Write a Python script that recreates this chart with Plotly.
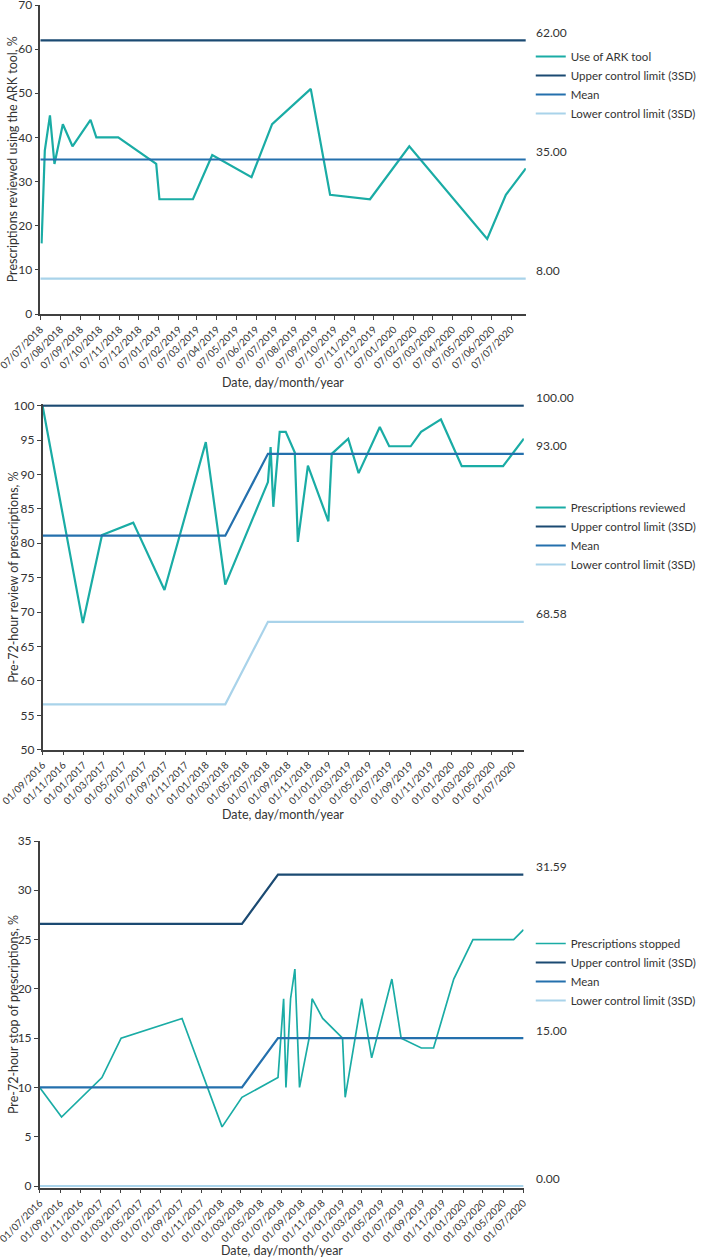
import plotly.graph_objects as go

# ---------------- data ----------------
# Chart 1: use of ARK tool
ark_dates = ["2018-07-09", "2018-07-14", "2018-07-22", "2018-07-29", "2018-08-11", "2018-08-26",
             "2018-09-23", "2018-10-02", "2018-11-05", "2019-01-03", "2019-01-08", "2019-03-01",
             "2019-03-31", "2019-05-31", "2019-07-02", "2019-08-31", "2019-09-30", "2019-12-01",
             "2020-01-31", "2020-05-31", "2020-06-29", "2020-07-30"]
ark_values = [16, 37, 45, 34, 43, 38, 44, 40, 40, 34, 26, 26, 36, 31, 43, 51, 27, 26, 38, 17, 27, 33]
ark_limit_dates = ["2018-07-07", "2020-07-30"]
ark_ucl = [62.0, 62.0]
ark_mean = [35.0, 35.0]
ark_lcl = [8.0, 8.0]
ark_ticks = ["07/07/2018", "07/08/2018", "07/09/2018", "07/10/2018", "07/11/2018", "07/12/2018",
             "07/01/2019", "07/02/2019", "07/03/2019", "07/04/2019", "07/05/2019", "07/06/2019",
             "07/07/2019", "07/08/2019", "07/09/2019", "07/10/2019", "07/11/2019", "07/12/2019",
             "07/01/2020", "07/02/2020", "07/03/2020", "07/04/2020", "07/05/2020", "07/06/2020",
             "07/07/2020"]

# Chart 2: pre-72-hour review of prescriptions
rev_dates = ["2016-09-01", "2016-12-30", "2017-02-25", "2017-05-29", "2017-08-30", "2017-12-31",
             "2018-02-27", "2018-07-04", "2018-07-12", "2018-07-20", "2018-08-08", "2018-08-26",
             "2018-09-22", "2018-10-01", "2018-10-31", "2018-12-31", "2019-01-10", "2019-02-28",
             "2019-03-31", "2019-06-02", "2019-06-30", "2019-09-02", "2019-10-03", "2019-12-01",
             "2020-02-01", "2020-06-03", "2020-08-04"]
rev_values = [100, 68.4, 81.2, 83, 73.2, 94.7, 74, 88.9, 94, 85.3, 96.2, 96.2, 93.2, 80.2, 91.3,
              83.2, 93, 95.2, 90.2, 96.9, 94.1, 94.1, 96.2, 98, 91.2, 91.2, 95.2]
rev_limit_dates = ["2016-09-01", "2018-02-27", "2018-07-04", "2020-08-04"]
rev_ucl = [100.0, 100.0, 100.0, 100.0]
rev_mean = [81.1, 81.1, 93.0, 93.0]
rev_lcl = [56.6, 56.6, 68.58, 68.58]
rev_ticks = ["01/09/2016", "01/11/2016", "01/01/2017", "01/03/2017", "01/05/2017", "01/07/2017",
             "01/09/2017", "01/11/2017", "01/01/2018", "01/03/2018", "01/05/2018", "01/07/2018",
             "01/09/2018", "01/11/2018", "01/01/2019", "01/03/2019", "01/05/2019", "01/07/2019",
             "01/09/2019", "01/11/2019", "01/01/2020", "01/03/2020", "01/05/2020", "01/07/2020"]

# Chart 3: pre-72-hour stop of prescriptions
stop_dates = ["2016-07-01", "2016-09-05", "2017-01-05", "2017-03-04", "2017-09-04", "2018-01-03",
              "2018-03-04", "2018-06-21", "2018-07-08", "2018-07-15", "2018-07-29", "2018-08-11",
              "2018-08-25", "2018-09-23", "2018-10-02", "2018-11-03", "2019-01-02", "2019-01-10",
              "2019-03-01", "2019-03-31", "2019-05-31", "2019-06-28", "2019-08-28", "2019-10-04",
              "2019-12-04", "2020-01-31", "2020-06-02", "2020-07-02"]
stop_values = [10, 7, 11, 15, 17, 6, 9, 11, 19, 10, 19, 22, 10, 15, 19, 17, 15, 9, 19, 13, 21, 15,
               14, 14, 21, 25, 25, 26]
stop_limit_dates = ["2016-07-01", "2018-03-04", "2018-06-21", "2020-07-02"]
stop_ucl = [26.6, 26.6, 31.59, 31.59]
stop_mean = [10.0, 10.0, 15.0, 15.0]
stop_lcl = [0.0, 0.0, 0.0, 0.0]
stop_ticks = ["01/07/2016", "01/09/2016", "01/11/2016", "01/01/2017", "01/03/2017", "01/05/2017",
              "01/07/2017", "01/09/2017", "01/11/2017", "01/01/2018", "01/03/2018", "01/05/2018",
              "01/07/2018", "01/09/2018", "01/11/2018", "01/01/2019", "01/03/2019", "01/05/2019",
              "01/07/2019", "01/09/2019", "01/11/2019", "01/01/2020", "01/03/2020", "01/05/2020",
              "01/07/2020"]

data_names = ["Use of ARK tool", "Prescriptions reviewed", "Prescriptions stopped"]
limit_names = ["Upper control limit (3SD)", "Mean", "Lower control limit (3SD)"]
y_titles = ["Prescriptions reviewed using the ARK tool, %",
            "Pre-72-hour review of prescriptions, %",
            "Pre-72-hour stop of prescriptions, %"]
x_title = "Date, day/month/year"

# ---------------- style ----------------
W, H = 701, 1257
FONT = "Lato"
TXT = "#333333"
AX = "#404040"
C_DATA = "#1aaca5"
C_UCL = "#1b4a72"
C_MEAN = "#2470ad"
C_LCL = "#a9d3ea"


def px_x(p):
    return p / W


def px_y(p):
    return 1 - p / H


def iso(d):
    dd, mm, yy = d.split("/")
    return f"{yy}-{mm}-{dd}"


panels = [
    dict(dates=ark_dates, vals=ark_values, ld=ark_limit_dates, ucl=ark_ucl, mean=ark_mean, lcl=ark_lcl,
         ticks=ark_ticks, xr=["2018-07-07", "2020-07-30"], yr=[0, 70], ydt=10,
         xdom=[41, 535], ydom=[5, 314], legy=42, xtitle_y=382, lw=2.2),
    dict(dates=rev_dates, vals=rev_values, ld=rev_limit_dates, ucl=rev_ucl, mean=rev_mean, lcl=rev_lcl,
         ticks=rev_ticks, xr=["2016-09-01", "2020-08-04"], yr=[50, 100.2], ydt=5,
         xdom=[43.3, 533], ydom=[404.3, 749.7], legy=493, xtitle_y=814, lw=2.2),
    dict(dates=stop_dates, vals=stop_values, ld=stop_limit_dates, ucl=stop_ucl, mean=stop_mean, lcl=stop_lcl,
         ticks=stop_ticks, xr=["2016-07-01", "2020-07-02"], yr=[-0.15, 35], ydt=5,
         xdom=[40.4, 532.7], ydom=[841, 1187.5], legy=929, xtitle_y=1250, lw=1.7),
]

fig = go.Figure()
annotations = []
layout_axes = {}

for i, p in enumerate(panels):
    n = i + 1
    xa = "x" if n == 1 else f"x{n}"
    ya = "y" if n == 1 else f"y{n}"
    leg = "legend" if n == 1 else f"legend{n}"

    fig.add_trace(go.Scatter(x=p["dates"], y=p["vals"], mode="lines", name=data_names[i],
                             line=dict(color=C_DATA, width=p["lw"]), xaxis=xa, yaxis=ya, legend=leg))
    for nm, vals, col in zip(limit_names, [p["ucl"], p["mean"], p["lcl"]], [C_UCL, C_MEAN, C_LCL]):
        fig.add_trace(go.Scatter(x=p["ld"], y=vals, mode="lines", name=nm,
                                 line=dict(color=col, width=2.2), xaxis=xa, yaxis=ya, legend=leg))
        annotations.append(dict(xref="paper", yref=ya, x=px_x(543), y=vals[-1], text=f"{vals[-1]:.2f}",
                                showarrow=False, xanchor="left", yanchor="middle", yshift=8,
                                font=dict(family=FONT, size=12, color=TXT)))

    xkey = "xaxis" if n == 1 else f"xaxis{n}"
    ykey = "yaxis" if n == 1 else f"yaxis{n}"
    layout_axes[xkey] = dict(
        type="date", range=p["xr"], domain=[px_x(p["xdom"][0]), px_x(p["xdom"][1])], anchor=ya,
        tickmode="array", tickvals=[iso(t) for t in p["ticks"]], ticktext=p["ticks"], tickangle=-45,
        showline=True, linecolor=AX, linewidth=1.5, ticks="outside", ticklen=4, tickcolor=AX,
        showgrid=False, zeroline=False, automargin=False, ticklabeloverflow="allow",
        tickfont=dict(family=FONT, size=10, color=TXT),
    )
    layout_axes[ykey] = dict(
        range=p["yr"], tickmode="linear", tick0=0, dtick=p["ydt"],
        domain=[px_y(p["ydom"][1]), px_y(p["ydom"][0])], anchor=xa,
        showline=True, linecolor=AX, linewidth=1.5, ticks="outside", ticklen=4, tickcolor=AX,
        showgrid=False, zeroline=False, automargin=False, ticklabeloverflow="allow",
        tickfont=dict(family=FONT, size=12, color=TXT),
    )
    layout_axes[leg] = dict(x=px_x(540), y=px_y(p["legy"]), xanchor="left", yanchor="top",
                            bgcolor="rgba(0,0,0,0)", tracegroupgap=0, itemwidth=30,
                            font=dict(family=FONT, size=11.5, color=TXT))
    # axis titles
    annotations.append(dict(xref="paper", yref="paper", x=px_x((p["xdom"][0] + p["xdom"][1]) / 2),
                            y=px_y(p["xtitle_y"]), text=x_title, showarrow=False,
                            xanchor="center", yanchor="middle",
                            font=dict(family=FONT, size=12.5, color=TXT)))
    annotations.append(dict(xref="paper", yref="paper", x=px_x(13),
                            y=px_y((p["ydom"][0] + p["ydom"][1]) / 2), text=y_titles[i], showarrow=False,
                            textangle=-90, xanchor="center", yanchor="middle",
                            font=dict(family=FONT, size=12.5, color=TXT)))

fig.update_layout(
    width=W, height=H, margin=dict(l=0, r=0, t=0, b=0),
    paper_bgcolor="white", plot_bgcolor="white",
    font=dict(family=FONT, color=TXT),
    annotations=annotations,
    **layout_axes,
)

fig.write_html("out.html", config=dict(displayModeBar=False),
               post_script="document.body.style.margin='0px';")
